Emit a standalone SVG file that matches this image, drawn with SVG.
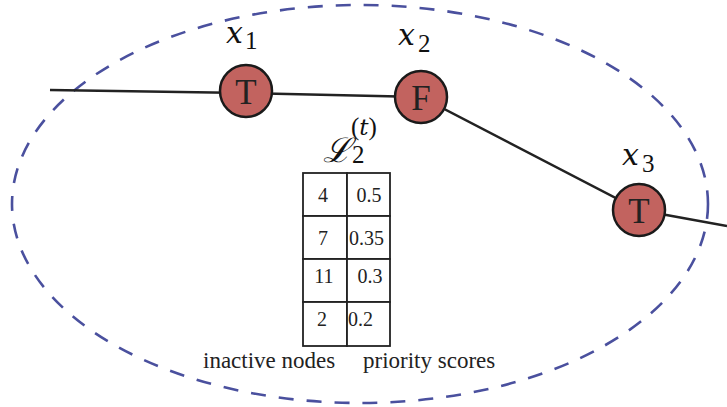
<svg xmlns="http://www.w3.org/2000/svg" width="727" height="407" viewBox="0 0 727 407">
<style>
.edge{stroke:#222;stroke-width:2.5;fill:none}
.node{fill:#c2635f;stroke:#1a1a1a;stroke-width:2.5}
.nl{font-family:"Liberation Serif",serif;font-size:35px;fill:#222;text-anchor:middle}
.math{font-family:"DejaVu Serif",serif;font-style:italic;font-size:30px;fill:#111}
.sub{font-family:"Liberation Serif",serif;font-size:25px;fill:#111}
.cell{fill:#fff;stroke:#222;stroke-width:1.8}
.tt{font-family:"Liberation Serif",serif;font-size:20px;fill:#222}
.cap{font-family:"Liberation Serif",serif;font-size:23px;fill:#222}
</style>
<ellipse cx="360" cy="204" rx="348" ry="199" fill="none" stroke="#4a509e" stroke-width="2.6" stroke-dasharray="15 13"/>
<g id="connectors">
<polyline class="edge" points="50,90 245,93 421,97 639,210 727,226"/>
</g>
<g id="x1">
<circle class="node" cx="246" cy="91" r="26"/>
<text class="nl" x="246" y="104">T</text>
<text class="math" x="226" y="43">x</text><text class="sub" x="245" y="49">1</text>
</g>
<g id="x2">
<circle class="node" cx="421" cy="97" r="26"/>
<text class="nl" x="421" y="110">F</text>
<text class="math" x="398" y="45">x</text><text class="sub" x="418" y="52">2</text>
</g>
<g id="x3">
<circle class="node" cx="639" cy="210" r="26"/>
<text class="nl" x="639" y="223">T</text>
<text class="math" x="622" y="165">x</text><text class="sub" x="642" y="172">3</text>
</g>
<g id="list">
<text x="323" y="162" font-family="'DejaVu Serif',serif" font-style="italic" font-size="34" fill="#111">ℒ</text>
<text class="sub" x="352" y="163">2</text>
<text class="sub" x="351" y="135">(<tspan font-family="'DejaVu Serif',serif" font-style="italic" font-size="23">t</tspan>)</text>
<rect class="cell" x="303" y="173" width="44" height="43"/>
<rect class="cell" x="347" y="173" width="43" height="43"/>
<rect class="cell" x="303" y="216" width="44" height="43"/>
<rect class="cell" x="347" y="216" width="43" height="43"/>
<rect class="cell" x="303" y="259" width="44" height="43"/>
<rect class="cell" x="347" y="259" width="43" height="43"/>
<rect class="cell" x="303" y="302" width="44" height="44"/>
<rect class="cell" x="347" y="302" width="43" height="44"/>
<text class="tt" x="323" y="202" text-anchor="middle">4</text>
<text class="tt" x="369" y="202" text-anchor="middle">0.5</text>
<text class="tt" x="323" y="245" text-anchor="middle">7</text>
<text class="tt" x="349" y="245">0.35</text>
<text class="tt" x="324" y="283" text-anchor="middle">11</text>
<text class="tt" x="370" y="283" text-anchor="middle">0.3</text>
<text class="tt" x="322" y="326" text-anchor="middle">2</text>
<text class="tt" x="348" y="326">0.2</text>
<text class="cap" x="203" y="368">inactive nodes</text>
<text class="cap" x="363" y="368">priority scores</text>
</g>
</svg>
